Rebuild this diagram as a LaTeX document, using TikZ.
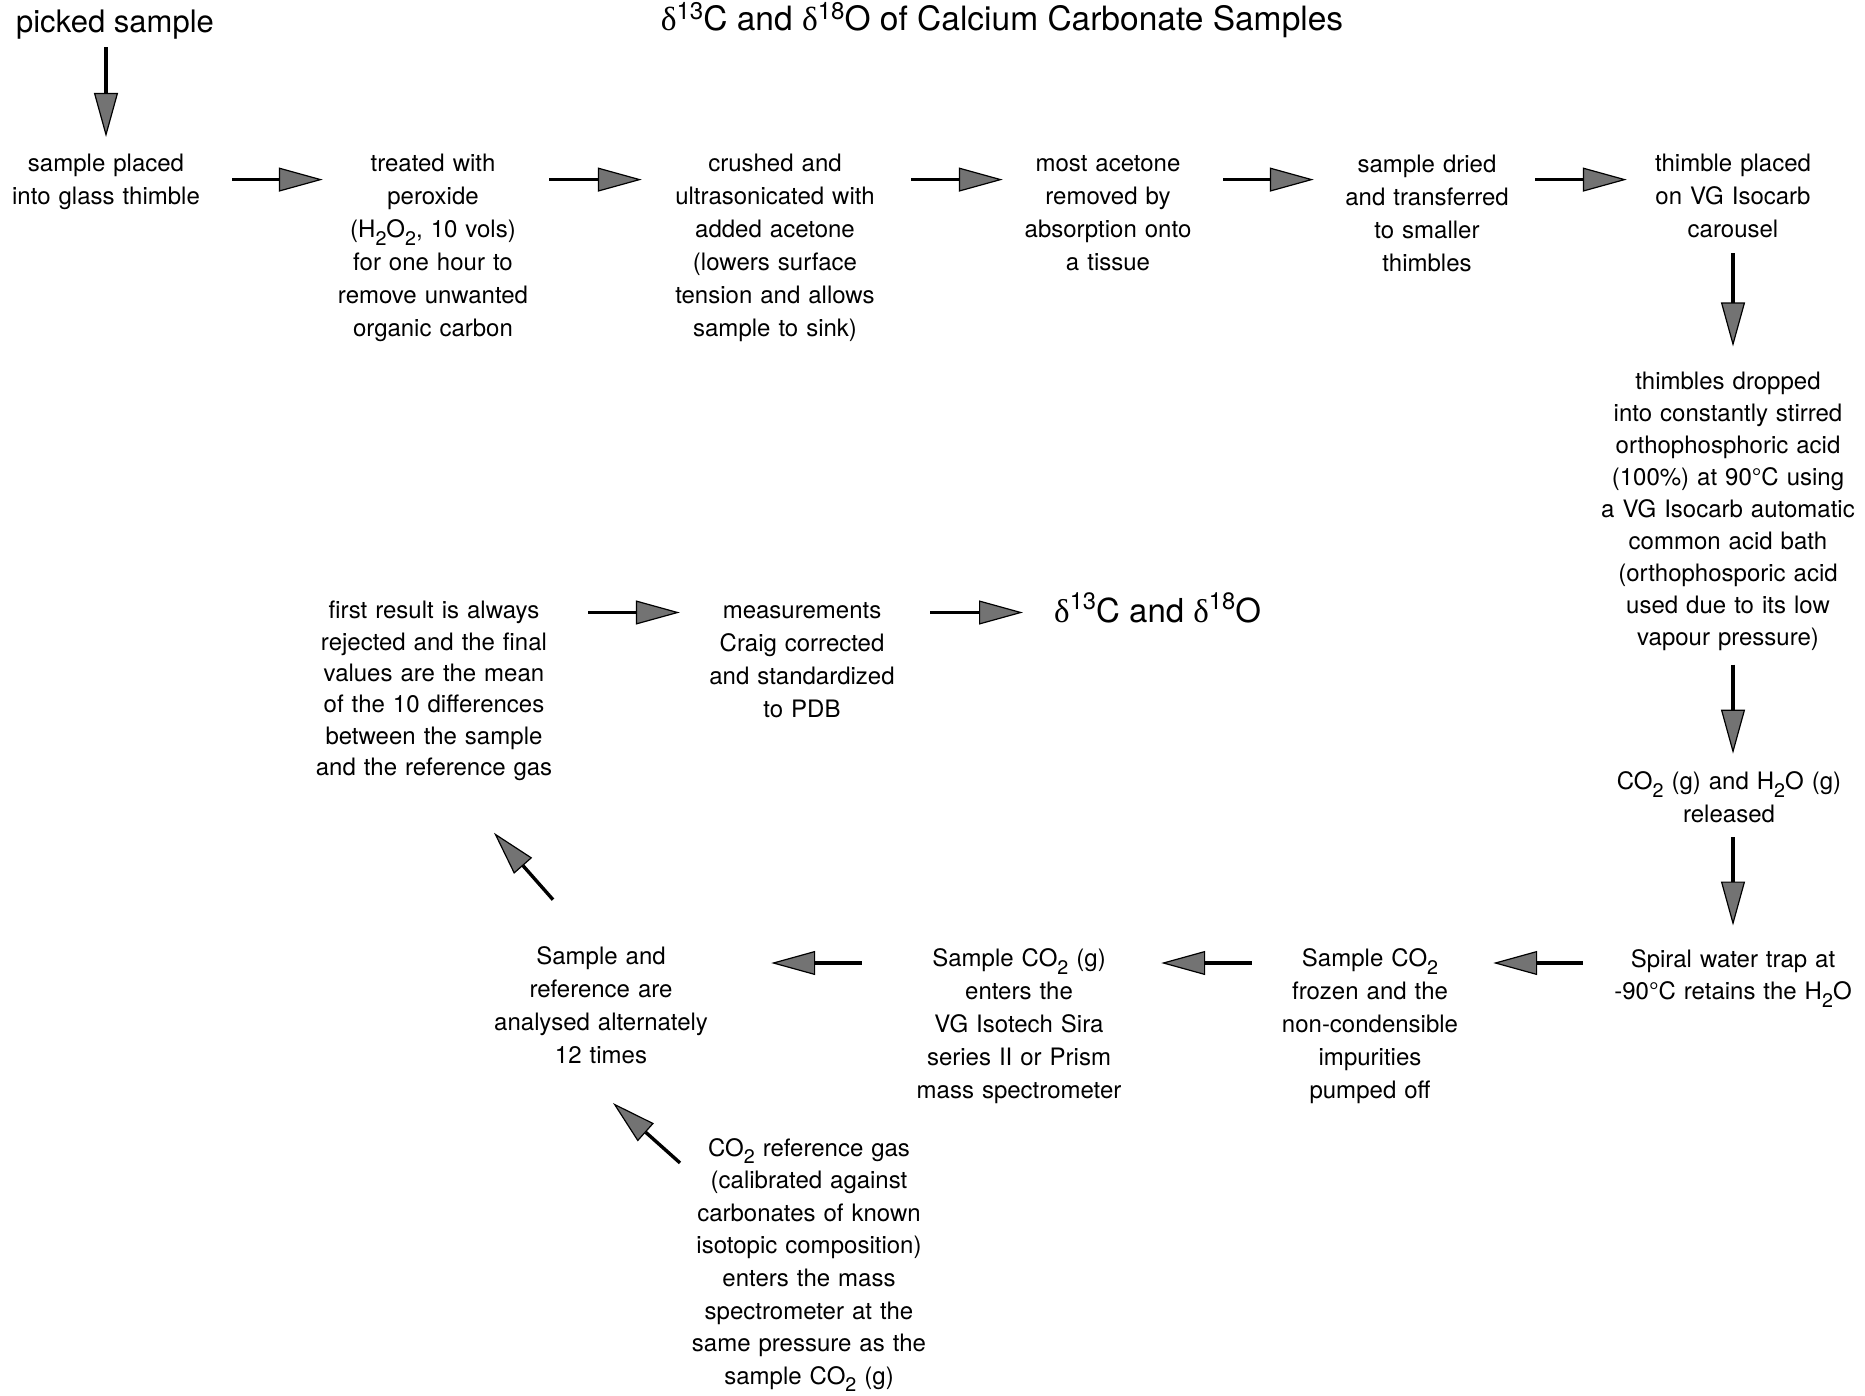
\documentclass[tikz,border=0pt]{standalone}
\usepackage{fontspec}
\setmainfont{TeX Gyre Heros}
\newfontfamily\grk{Liberation Serif}
\usetikzlibrary{arrows.meta}
\definecolor{headgray}{gray}{0.45}
\newcommand{\chsub}[1]{\raisebox{-0.32em}{\scalebox{0.82}{#1}}}
\newcommand{\chsup}[1]{\raisebox{0.40em}{\scalebox{0.72}{#1}}}
\newcommand{\tsup}[1]{\raisebox{0.34em}{\scalebox{0.72}{#1}}}
\newcommand{\dlt}{{\grk δ}}
\begin{document}
\begin{tikzpicture}[x=1pt,y=1pt,
  txt/.style={align=center, inner sep=0pt, font=\fontsize{24}{33}\selectfont},
  arr/.style={draw=black, line width=3.4pt,
    -{Triangle[length=44pt,width=24pt,line width=1.2pt,fill=headgray]}}]
\useasboundingbox (0,0) rectangle (1865,-1396);

% helper levels for horizontal arrow rows
\coordinate (row1) at (0,-179.6);
\coordinate (rowm) at (0,-612.5);
\coordinate (rowb) at (0,-963);

% title
\node[inner sep=0pt, anchor=base, font=\fontsize{33.5}{36}\selectfont] (title) at (1002,-30.5)
  {\dlt\tsup{13}C and \dlt\tsup{18}O of Calcium Carbonate Samples};

\node[txt, font=\fontsize{31}{36}\selectfont] (n0) at (115,-24.5) {picked sample};

\node[txt, text width=200pt] (n1) at (106,-182) {sample placed\\into glass thimble};
\node[txt, text width=210pt] (n2) at (433,-248)
  {treated with\\peroxide\\(H\chsub{2}O\chsub{2}, 10 vols)\\for one hour to\\remove unwanted\\organic carbon};
\node[txt, text width=215pt] (n3) at (775,-248)
  {crushed and\\ultrasonicated with\\added acetone\\(lowers surface\\tension and allows\\sample to sink)};
\node[txt, text width=180pt] (n4) at (1108,-213)
  {most acetone\\removed by\\absorption onto\\a tissue};
\node[txt, text width=180pt] (n5) at (1427,-213)
  {sample dried\\and transferred\\to smaller\\thimbles};
\node[txt, text width=170pt] (n6) at (1733,-196)
  {thimble placed\\on VG Isocarb\\carousel};
\node[txt, text width=270pt, font=\fontsize{24}{32}\selectfont] (n7) at (1728,-511)
  {thimbles dropped\\into constantly stirred\\orthophosphoric acid\\(100\%) at 90°C using\\a VG Isocarb automatic\\common acid bath\\(orthophosporic acid\\used due to its low\\vapour pressure)};
\node[txt, text width=240pt] (n8) at (1729,-797.5)
  {CO\chsub{2} (g) and H\chsub{2}O (g)\\released};
\node[txt, text width=260pt, font=\fontsize{24}{32}\selectfont] (n9) at (1733,-978.5)
  {Spiral water trap at\\-90°C retains the H\chsub{2}O};
\node[txt, text width=180pt] (n10) at (1370,-1026)
  {Sample CO\chsub{2}\\frozen and the\\non-condensible\\impurities\\pumped off};
\node[txt, text width=210pt] (n11) at (1019,-1026)
  {Sample CO\chsub{2} (g)\\enters the\\VG Isotech Sira\\series II or Prism\\mass spectrometer};
\node[txt, text width=220pt] (n12) at (601,-1005.5)
  {Sample and\\reference are\\analysed alternately\\12 times};
\node[txt, text width=240pt, font=\fontsize{24}{31.4}\selectfont] (n13) at (434,-691)
  {first result is always\\rejected and the final\\values are the mean\\of the 10 differences\\between the sample\\and the reference gas};
\node[txt, text width=260pt, font=\fontsize{24}{32.6}\selectfont] (n14) at (809,-1265)
  {CO\chsub{2} reference gas\\(calibrated against\\carbonates of known\\isotopic composition)\\enters the mass\\spectrometer at the\\same pressure as the\\sample CO\chsub{2} (g)};
\node[txt, text width=190pt] (n15) at (802,-660)
  {measurements\\Craig corrected\\and standardized\\to PDB};
\node[inner sep=0pt, anchor=base west, font=\fontsize{33}{36}\selectfont] (n16) at (1054,-622.5)
  {\dlt\chsup{13}C and \dlt\chsup{18}O};

% connectors
\draw[arr, shorten <=8pt, shorten >=17pt] (n1.north |- n0.south) -- (n1.north);
\draw[arr, shorten <=26pt, shorten >=5pt] (n1.east |- row1) -- (n2.west |- row1);
\draw[arr, shorten <=11pt, shorten >=25.5pt] (n2.east |- row1) -- (n3.west |- row1);
\draw[arr, shorten <=28.5pt, shorten >=15pt] (n3.east |- row1) -- (n4.west |- row1);
\draw[arr, shorten <=25pt, shorten >=23pt] (n4.east |- row1) -- (n5.west |- row1);
\draw[arr, shorten <=18pt, shorten >=21pt] (n5.east |- row1) -- (n6.west |- row1);
\draw[arr, shorten <=15pt, shorten >=25pt] (n6.south) -- (n6.south |- n7.north);
\draw[arr, shorten <=14pt, shorten >=18pt] (n6.south |- n7.south) -- (n6.south |- n8.north);
\draw[arr, shorten <=14pt, shorten >=24pt] (n6.south |- n8.south) -- (n6.south |- n9.north);
\draw[arr, shorten <=20pt, shorten >=33pt] (n9.west |- rowb) -- (n10.east |- rowb);
\draw[arr, shorten <=28pt, shorten >=37pt] (n10.west |- rowb) -- (n11.east |- rowb);
\draw[arr, shorten <=52pt, shorten >=60pt] (n11.west |- rowb) -- (n12.east |- rowb);
\draw[arr] ([xshift=-48pt,yshift=47pt]n12.north) -- ([xshift=60pt,yshift=-51.7pt]n13.south);
\draw[arr] ([xshift=-129pt,yshift=-25pt]n14.north) -- ([xshift=12pt,yshift=-38.7pt]n12.south);
\draw[arr, shorten <=34pt, shorten >=27pt] (n13.east |- rowm) -- (n15.west |- rowm);
\draw[arr, shorten <=33pt, shorten >=31pt] (n15.east |- rowm) -- (n16.west |- rowm);
\end{tikzpicture}
\end{document}
